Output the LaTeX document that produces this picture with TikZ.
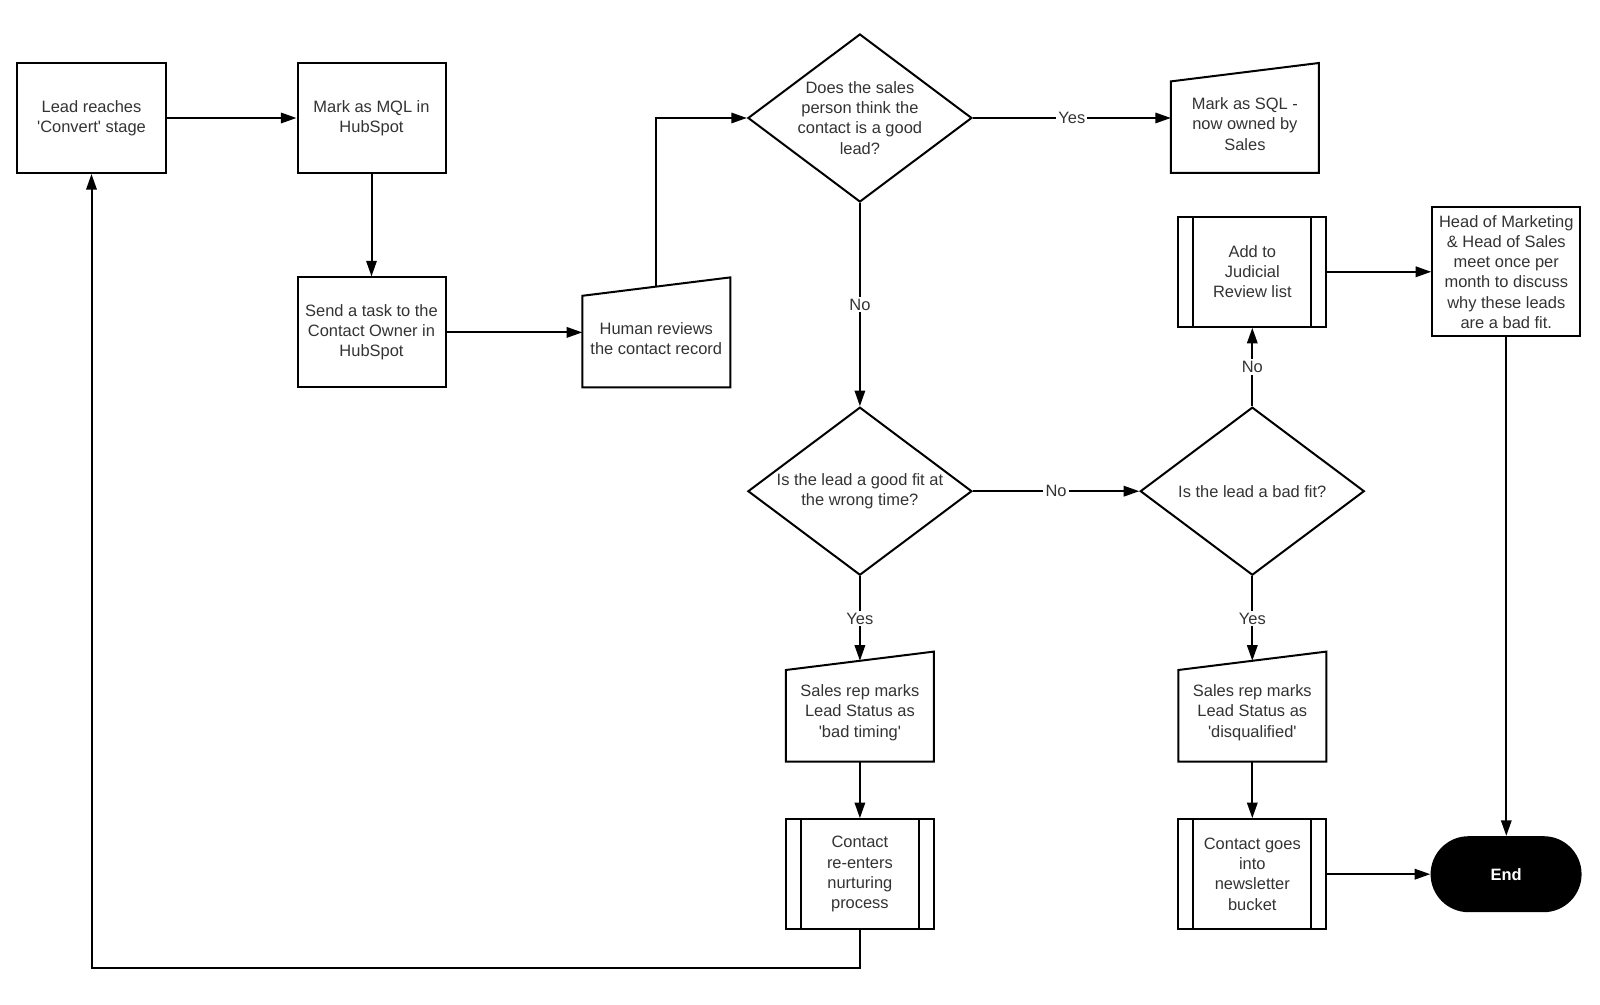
\documentclass[tikz,border=0pt]{standalone}
\usepackage{fontspec}
\setmainfont{Liberation Sans}
\usepackage{xcolor}
\usetikzlibrary{arrows.meta,positioning,shapes.geometric}
\definecolor{strokeblack}{HTML}{000000}
\definecolor{labelgray}{HTML}{333333}
\tikzset{
  box/.style={draw=strokeblack,line width=0.5mm,fill=white,align=center,inner sep=2pt,minimum width=37mm,minimum height=27.5mm,text=labelgray,font=\fontsize{11.7}{14.4}\selectfont},
  processbox/.style={box},
  predefbox/.style={box,path picture={
    \draw[draw=strokeblack,line width=0.5mm]
      ([xshift=3.75mm]path picture bounding box.south west) -- ([xshift=3.75mm]path picture bounding box.north west)
      ([xshift=-3.75mm]path picture bounding box.south east) -- ([xshift=-3.75mm]path picture bounding box.north east);}},
  manualbox/.style={box,draw=none,fill=none,minimum width=36.5mm,minimum height=24mm,
    append after command={\pgfextra{\draw[draw=strokeblack,line width=0.5mm]
      (\tikzlastnode.south west) -- (\tikzlastnode.south east)
      -- ([yshift=3mm]\tikzlastnode.north east)
      -- ([yshift=-1.6mm]\tikzlastnode.north west) -- cycle;}}},
  decision/.style={box,diamond,aspect=1.333,inner sep=0pt,minimum width=56mm,minimum height=42mm},
  terminal/.style={rectangle,rounded corners=9.5mm,fill=black,text=white,minimum width=37.75mm,minimum height=19mm,font=\fontsize{11.7}{14.4}\selectfont\bfseries},
  flow/.style={-{Triangle[length=3.9mm,width=2.6mm]},line width=0.5mm,draw=strokeblack},
  branch/.style={fill=white,inner sep=1.5pt,text=labelgray,font=\fontsize{11.7}{14.4}\selectfont}
}

\begin{document}
\begin{tikzpicture}[node distance=25mm and 30mm]
  \path[use as bounding box,fill=white] (-22.875mm,29.5mm) rectangle (377.125mm,-221.75mm);

  \node[processbox] (lead) at (0,0) {Lead reaches\\\textquotesingle Convert\textquotesingle\ stage};
  \node[processbox,right=32.5mm of lead] (mql) {Mark as MQL in\\HubSpot};
  \node[processbox,below=25.6mm of mql] (task) {Send a task to the\\Contact Owner in\\HubSpot};
  \node[manualbox,right=33.95mm of task,yshift=-1.5mm] (review) {Human reviews\\the contact record};
  \draw[flow] (lead) -- (mql);
  \draw[flow] (mql) -- (task);
  \draw[flow] (task) -- (task -| review.west);

  \node[decision,right=75.1mm of mql] (goodlead) {Does the sales\\person think the\\contact is a good\\lead?};
  \node[manualbox,right=49.5mm of goodlead,yshift=-1.5mm] (sql) {Mark as SQL -\\now owned by\\Sales};
  \draw[flow] ([yshift=0.7mm]review.north) |- (goodlead);
  \draw[flow] (goodlead) -- node[branch] {Yes} (goodlead -| sql.west);

  \node[decision,below=50.8mm of goodlead] (wrongtime) {Is the lead a good fit at\\the wrong time?};
  \node[decision,right=41.6mm of wrongtime] (badfit) {Is the lead a bad fit?};
  \draw[flow] (goodlead) -- node[branch] {No} (wrongtime);
  \draw[flow] (wrongtime) -- node[branch] {No} (badfit);

  \node[predefbox,above=19.6mm of badfit] (judicial) {Add to\\Judicial\\Review list};
  \node[processbox,right=26mm of judicial,minimum height=32.15mm] (heads) {Head of Marketing\\\& Head of Sales\\meet once per\\month to discuss\\why these leads\\are a bad fit.};
  \draw[flow] (badfit) -- node[branch] {No} (judicial);
  \draw[flow] (judicial) -- (heads);

  \node[manualbox,below=21.85mm of wrongtime] (badtiming) {Sales rep marks\\Lead Status as\\\textquotesingle bad timing\textquotesingle};
  \node[predefbox,below=14.15mm of badtiming] (nurture) {Contact\\re-enters\\nurturing\\process};
  \draw[flow] (wrongtime) -- node[branch] {Yes} ([yshift=0.7mm]badtiming.north);
  \draw[flow] (badtiming) -- (nurture);
  \draw[flow] (nurture.south) -- ++(0,-9.5mm) -| (lead);

  \node[manualbox,below=21.85mm of badfit] (disqualified) {Sales rep marks\\Lead Status as\\\textquotesingle disqualified\textquotesingle};
  \node[predefbox,below=14.15mm of disqualified] (newsletter) {Contact goes\\into\\newsletter\\bucket};
  \node[terminal,right=25.75mm of newsletter] (finish) {End};
  \draw[flow] (badfit) -- node[branch] {Yes} ([yshift=0.7mm]disqualified.north);
  \draw[flow] (disqualified) -- (newsletter);
  \draw[flow] (newsletter) -- (finish);
  \draw[flow] (heads) -- (heads |- finish.north);

\end{tikzpicture}
\end{document}
